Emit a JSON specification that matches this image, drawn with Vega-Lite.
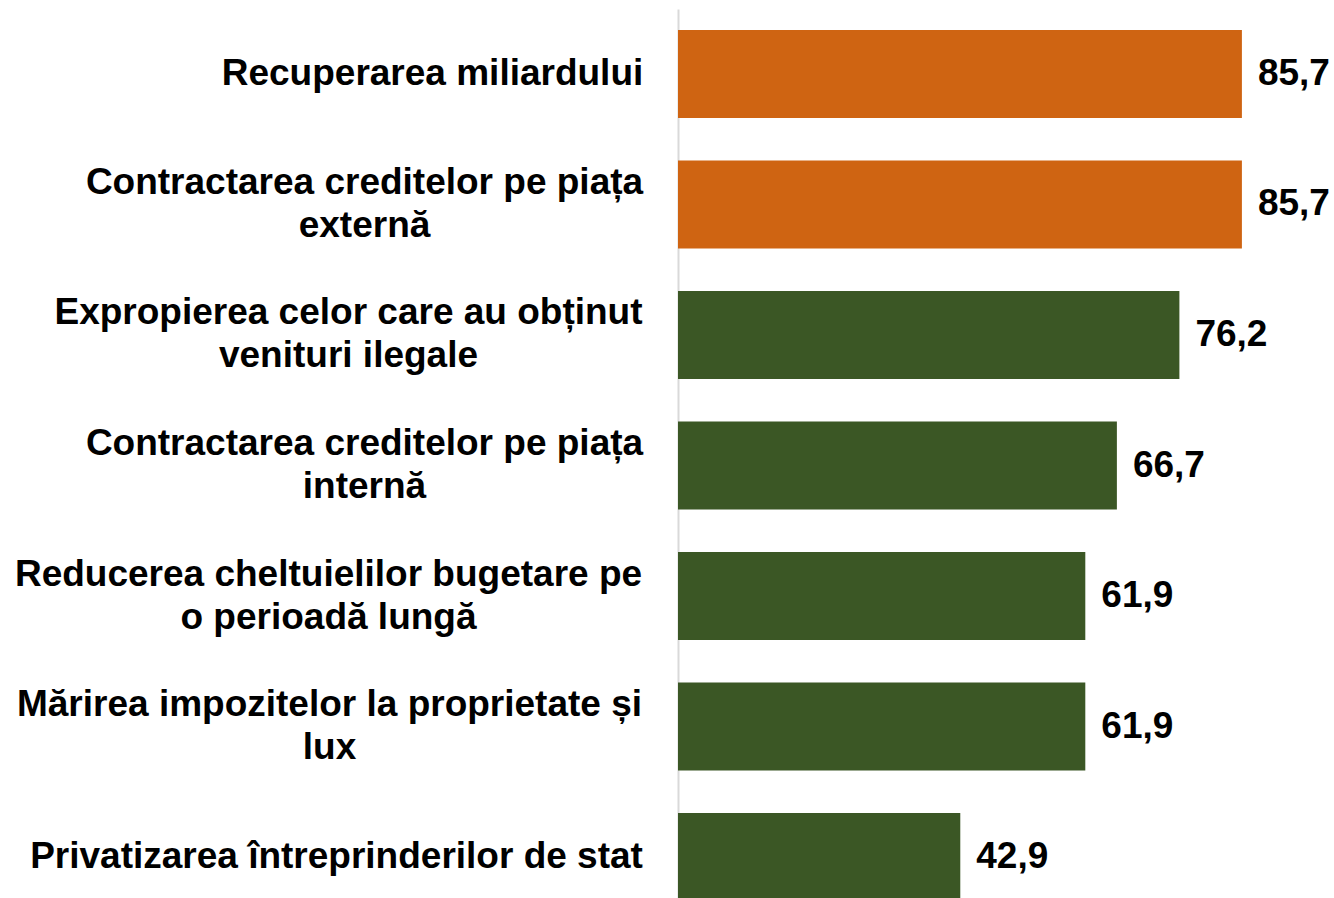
{
  "$schema": "https://vega.github.io/schema/vega-lite/v6.json",
  "autosize": {"type": "none"},
  "padding": {"left": 678, "top": 9, "right": 0, "bottom": 0},
  "width": 658,
  "height": 913,
  "background": "#ffffff",
  "data": {
    "values": [
      {"label": "Recuperarea miliardului", "value": 85.7, "grupa": "top"},
      {"label": "Contractarea creditelor pe piața|externă", "value": 85.7, "grupa": "top"},
      {"label": "Expropierea celor care au obținut|venituri ilegale", "value": 76.2, "grupa": "rest"},
      {"label": "Contractarea creditelor pe piața|internă", "value": 66.7, "grupa": "rest"},
      {"label": "Reducerea cheltuielilor bugetare pe|o perioadă lungă", "value": 61.9, "grupa": "rest"},
      {"label": "Mărirea impozitelor la proprietate și|lux", "value": 61.9, "grupa": "rest"},
      {"label": "Privatizarea întreprinderilor de stat", "value": 42.9, "grupa": "rest"}
    ]
  },
  "encoding": {
    "y": {
      "field": "label",
      "type": "nominal",
      "sort": null,
      "scale": {"paddingInner": 0.326, "paddingOuter": 0.161},
      "axis": {
        "title": null,
        "ticks": false,
        "tickSize": 0,
        "domain": true,
        "domainColor": "#d9d9d9",
        "domainWidth": 2,
        "labelExpr": "split(datum.value, '|')",
        "labelFont": "Liberation Sans",
        "labelFontWeight": "bold",
        "labelFontSize": 37,
        "labelColor": "#000000",
        "labelLineHeight": 43,
        "labelAlign": "center",
        "labelBaseline": "middle",
        "labelLimit": 0,
        "labelOffset": {
          "condition": {"test": "datum.value === 'Recuperarea miliardului' || datum.value === 'Privatizarea întreprinderilor de stat'", "value": 0},
          "value": -21.5
        },
        "labelPadding": {
          "condition": [
            {"test": "datum.value === 'Recuperarea miliardului'", "value": 246},
            {"test": "datum.value === 'Contractarea creditelor pe piața|externă' || datum.value === 'Contractarea creditelor pe piața|internă'", "value": 314},
            {"test": "datum.value === 'Expropierea celor care au obținut|venituri ilegale'", "value": 330},
            {"test": "datum.value === 'Reducerea cheltuielilor bugetare pe|o perioadă lungă'", "value": 350},
            {"test": "datum.value === 'Mărirea impozitelor la proprietate și|lux'", "value": 349}
          ],
          "value": 342
        }
      }
    },
    "x": {
      "field": "value",
      "type": "quantitative",
      "scale": {"domain": [0, 100], "nice": false},
      "axis": null
    }
  },
  "layer": [
    {
      "mark": {"type": "bar"},
      "encoding": {
        "color": {
          "field": "grupa",
          "type": "nominal",
          "scale": {"domain": ["top", "rest"], "range": ["#CF6412", "#3B5725"]},
          "legend": null
        }
      }
    },
    {
      "mark": {
        "type": "text",
        "align": "left",
        "baseline": "middle",
        "dx": 16,
        "font": "Liberation Sans",
        "fontWeight": "bold",
        "fontSize": 37,
        "color": "#000000"
      },
      "encoding": {
        "text": {"field": "value", "type": "quantitative", "format": ".1f"}
      }
    }
  ],
  "config": {
    "view": {"stroke": null},
    "locale": {
      "number": {"decimal": ",", "thousands": ".", "grouping": [3], "currency": ["", " lei"]}
    }
  }
}
